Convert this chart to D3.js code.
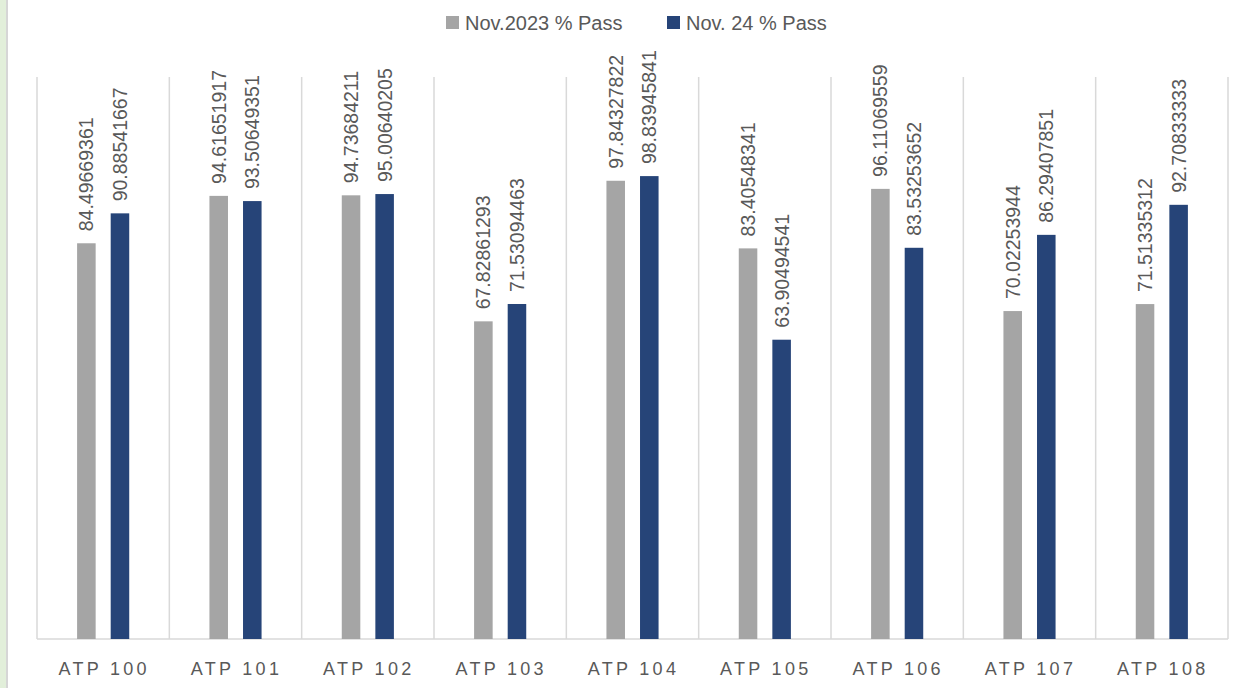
<!DOCTYPE html>
<html>
<head>
<meta charset="utf-8">
<script src="https://cdn.jsdelivr.net/npm/d3@7"></script>
<style>
  body { margin: 0; background: #fff; }
  svg { display: block; font-family: "Liberation Sans", Arial, sans-serif; }
</style>
</head>
<body>
<div id="chart"></div>
<script>
const categories = ['ATP 100', 'ATP 101', 'ATP 102', 'ATP 103', 'ATP 104', 'ATP 105', 'ATP 106', 'ATP 107', 'ATP 108'];
const seriesNames = ['Nov.2023 % Pass', 'Nov. 24 % Pass'];
const pass2023 = [84.49669361, 94.61651917, 94.73684211, 67.82861293, 97.84327822, 83.40548341, 96.11069559, 70.02253944, 71.51335312];
const pass2024 = [90.88541667, 93.50649351, 95.00640205, 71.53094463, 98.83945841, 63.90494541, 83.53253652, 86.29407851, 92.70833333];
const colors = ['#a5a5a5', '#264478'];

const width = 1245, height = 688;
const plotLeft = 37, plotRight = 1228, plotTop = 77, plotBottom = 639;

const svg = d3.select('#chart').append('svg')
  .attr('width', width)
  .attr('height', height);

// green strip on the far left
svg.append('rect').attr('x', 0).attr('y', 0).attr('width', 6).attr('height', height).attr('fill', '#e2efda');
svg.append('rect').attr('x', 6).attr('y', 0).attr('width', 2).attr('height', height).attr('fill', '#d6d6d6');

const x = d3.scaleBand()
  .domain(categories)
  .range([plotLeft, plotRight]);

const xInner = d3.scaleBand()
  .domain([0, 1])
  .range([0, x.bandwidth()])
  .paddingInner(0.448)
  .paddingOuter(1.194);

const y = d3.scaleLinear()
  .domain([0, 120])
  .range([plotBottom, plotTop]);

// vertical separators
svg.append('g')
  .selectAll('line')
  .data(categories.concat(['end']))
  .join('line')
  .attr('x1', (d, i) => plotLeft + i * x.step())
  .attr('x2', (d, i) => plotLeft + i * x.step())
  .attr('y1', y(120))
  .attr('y2', y(0))
  .attr('stroke', '#d9d9d9')
  .attr('stroke-width', 1.5);

// baseline
svg.append('line')
  .attr('x1', plotLeft).attr('x2', plotRight)
  .attr('y1', y(0)).attr('y2', y(0))
  .attr('stroke', '#d9d9d9')
  .attr('stroke-width', 1.5);

// bars + labels
const series = [pass2023, pass2024];
series.forEach((vals, s) => {
  const g = svg.append('g');
  g.selectAll('rect')
    .data(vals)
    .join('rect')
    .attr('x', (d, i) => x(categories[i]) + xInner(s))
    .attr('y', d => y(d))
    .attr('width', xInner.bandwidth())
    .attr('height', d => y(0) - y(d))
    .attr('fill', colors[s]);

  g.selectAll('text')
    .data(vals)
    .join('text')
    .attr('transform', (d, i) => {
      const cx = x(categories[i]) + xInner(s) + xInner.bandwidth() / 2;
      return 'translate(' + (cx + 7) + ',' + (y(d) - 12) + ') rotate(-90)';
    })
    .attr('font-size', 19.5)
    .attr('fill', '#595959')
    .text(d => String(d));
});

// x axis labels
svg.append('g')
  .selectAll('text')
  .data(categories)
  .join('text')
  .attr('x', d => x(d) + x.bandwidth() / 2 + 1)
  .attr('y', 675)
  .attr('text-anchor', 'middle')
  .attr('font-size', 18)
  .attr('letter-spacing', 3.3)
  .attr('fill', '#595959')
  .text(d => d);

// legend
const legendX = [446, 667];
const legend = svg.append('g');
seriesNames.forEach((name, i) => {
  legend.append('rect')
    .attr('x', legendX[i]).attr('y', 16)
    .attr('width', 13).attr('height', 13)
    .attr('fill', colors[i]);
  legend.append('text')
    .attr('x', legendX[i] + 19).attr('y', 30)
    .attr('font-size', 20)
    .attr('fill', '#595959')
    .text(name);
});
</script>
</body>
</html>
